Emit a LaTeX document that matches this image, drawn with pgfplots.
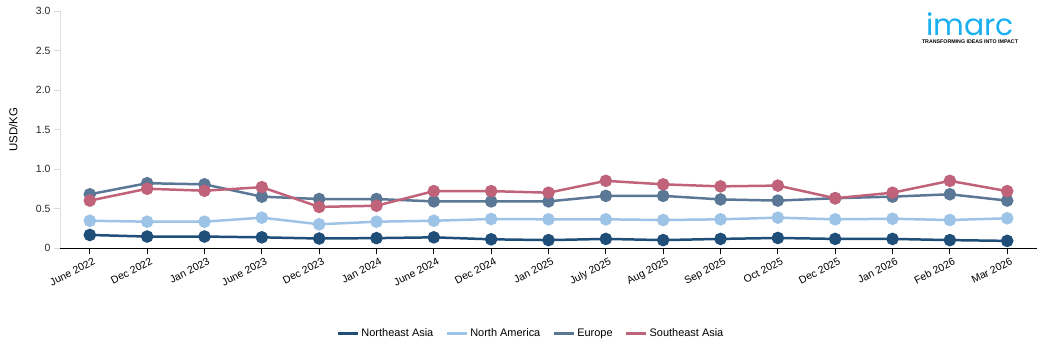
\documentclass[border=0pt]{standalone}
\usepackage{pgfplots}
\pgfplotsset{compat=1.18}
\usepackage{fontspec}
\setmainfont{Liberation Sans}
\newfontfamily\logofont{Poppins}
\definecolor{cNE}{HTML}{1F4E79}
\definecolor{cNA}{HTML}{9DC3E6}
\definecolor{cEU}{HTML}{5A7896}
\definecolor{cSE}{HTML}{C0627A}
\definecolor{logo}{HTML}{1AB0F0}
\begin{document}
\begin{tikzpicture}[x=1bp,y=1bp]
\useasboundingbox (-60bp,-104bp) rectangle (985bp,248bp);
\begin{axis}[
  at={(0bp,0bp)}, anchor=south west,
  scale only axis, width=977bp, height=237bp,
  xmin=-0.52, xmax=16.52, ymin=0, ymax=3,
  axis x line=bottom, axis y line=left,
  x axis line style={-, black, line width=1pt},
  y axis line style={-, black!12, line width=0.8pt},
  xtick={0,...,16},
  xticklabels={June 2022,Dec 2022,Jan 2023,June 2023,Dec 2023,Jan 2024,June 2024,Dec 2024,Jan 2025,July 2025,Aug 2025,Sep 2025,Oct 2025,Dec 2025,Jan 2026,Feb 2026,Mar 2026},
  ytick={0,0.5,1,1.5,2,2.5,3},
  yticklabels={0,0.5,1.0,1.5,2.0,2.5,3.0},
  tick align=outside,
  major tick length=6bp,
  x tick style={black, line width=0.8pt},
  y tick style={black!15},
  x tick label style={rotate=27, anchor=north east, font=\fontsize{10.5}{12}\selectfont, inner sep=1pt, xshift=2bp, yshift=-3bp},
  y tick label style={font=\fontsize{10.5}{12}\selectfont, text=black!85},
  /pgf/number format/assume math mode=true,
  ylabel={USD/KG}, ylabel style={font=\fontsize{11.5}{13}\selectfont, at={(-0.04,0.5)}},
  legend style={at={(0.482,-0.36)}, anchor=center, draw=none, legend columns=-1,
    font=\fontsize{11}{13}\selectfont, /tikz/every even column/.append style={column sep=10bp}},
  legend image code/.code={\draw[line width=3pt] (0bp,0bp) -- (20bp,0bp);},
  every axis plot/.append style={line width=2.5pt, mark=*, mark size=5bp},
  clip=false,
]
\addplot[color=cNE, mark options={fill=cNE}] coordinates {(0,0.165)(1,0.145)(2,0.145)(3,0.135)(4,0.12)(5,0.125)(6,0.135)(7,0.11)(8,0.10)(9,0.115)(10,0.10)(11,0.115)(12,0.127)(13,0.115)(14,0.115)(15,0.10)(16,0.09)};
\addlegendentry{Northeast Asia}
\addplot[color=cNA, mark options={fill=cNA}] coordinates {(0,0.345)(1,0.333)(2,0.333)(3,0.384)(4,0.30)(5,0.333)(6,0.345)(7,0.367)(8,0.363)(9,0.363)(10,0.354)(11,0.363)(12,0.384)(13,0.363)(14,0.37)(15,0.354)(16,0.376)};
\addlegendentry{North America}
\addplot[color=cEU, mark options={fill=cEU}] coordinates {(0,0.68)(1,0.82)(2,0.806)(3,0.65)(4,0.62)(5,0.62)(6,0.59)(7,0.59)(8,0.59)(9,0.66)(10,0.66)(11,0.615)(12,0.60)(13,0.63)(14,0.65)(15,0.68)(16,0.60)};
\addlegendentry{Europe}
\addplot[color=cSE, mark options={fill=cSE}] coordinates {(0,0.60)(1,0.75)(2,0.725)(3,0.77)(4,0.52)(5,0.535)(6,0.72)(7,0.72)(8,0.70)(9,0.85)(10,0.806)(11,0.78)(12,0.79)(13,0.63)(14,0.70)(15,0.85)(16,0.72)};
\addlegendentry{Southeast Asia}
\end{axis}
\node[text=logo, font=\logofont\fontsize{30}{30}\selectfont, inner sep=0, anchor=base, text depth=0pt] at (910bp,212bp) {imarc};
\node[font=\bfseries\fontsize{5.3}{6}\selectfont, inner sep=0, text depth=0pt, anchor=north] at (910bp,208.5bp) {TRANSFORMING IDEAS INTO IMPACT};
\end{tikzpicture}
\end{document}
